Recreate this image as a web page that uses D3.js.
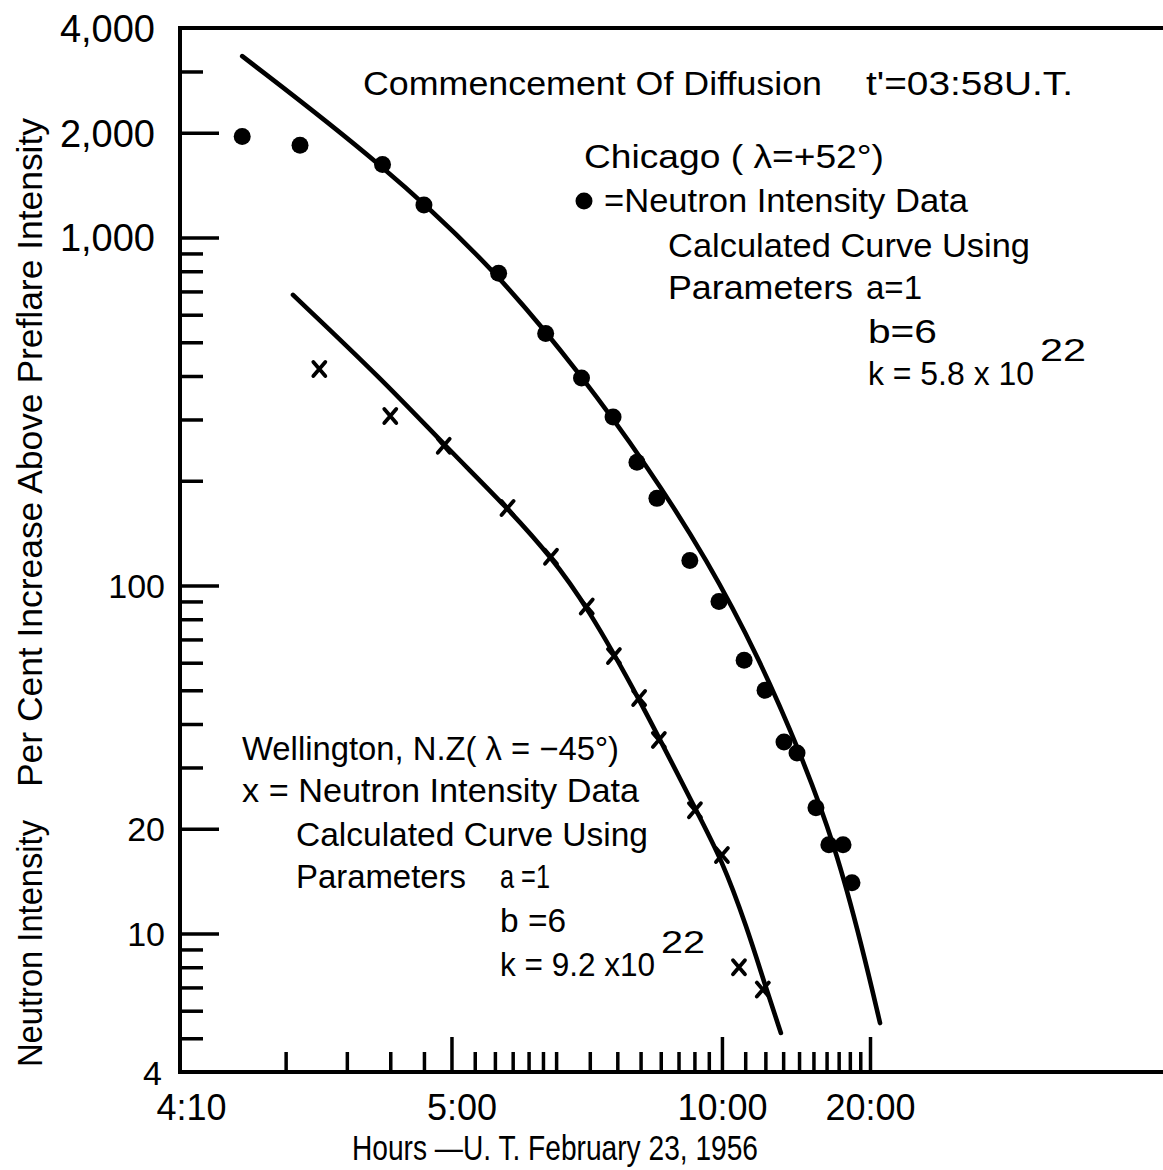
<!DOCTYPE html>
<html>
<head>
<meta charset="utf-8">
<script src="https://cdn.jsdelivr.net/npm/d3@7"></script>
<style>
  body { margin: 0; background: #fff; }
  svg { display: block; }
  text { font-family: "Liberation Sans", Arial, sans-serif; fill: #000; }
</style>
</head>
<body>
<svg id="chart" width="1163" height="1170"></svg>
<script>
// Times are U.T. on February 23, 1956; the horizontal axis is log(minutes after 04:00).
const chicagoTimes  = ["4:15","4:22","4:38","4:50","5:22","5:52","6:22","6:55","7:25","7:54",
                       "8:51","9:53","10:57","11:59","13:03","13:52","15:11","16:11","17:23","18:12"];
const chicagoValues = [1950,1840,1620,1240,790,530,395,305,226,178,
                       118,90,61,50,35.5,33,23,18,18,14];

const wellingtonTimes  = ["4:25","4:40","4:57","5:27","5:56","6:27","6:56","7:28","7:57","9:01","10:00","10:43","11:52"];
const wellingtonValues = [419,307,252,167,121,87,62.7,47.5,36,22.6,16.8,8.0,6.9];

// Calculated diffusion curves (a=1, b=6)
const chicagoCurveTimes  = ["4:15","4:38","5:22","6:23","7:36","9:28","11:43","14:04","16:41","19:16","21:06"];
const chicagoCurveValues = [3320,1626,791,397,226,118,61.1,33.2,18,8.97,5.53];

const wellingtonCurveTimes  = ["4:21","4:38","4:58","5:27","5:56","6:27","7:28","9:01","10:00","11:05","11:59","12:52"];
const wellingtonCurveValues = [684,390,250,167,121,87.3,47.5,22.9,16.3,10.4,7.11,5.18];

// Axis ticks
const xMajorTicks = ["4:10","5:00","10:00","20:00"];
const xMinorTicks = ["4:20","4:30","4:40","4:50","5:10","5:20","5:30","5:40","5:50","6:00",
                     "6:30","7:00","7:30","8:00","8:30","9:00","9:30",
                     "11:00","12:00","13:00","14:00","15:00","16:00","17:00","18:00","19:00"];
const yMajorTicks = [4000,2000,1000,100,20,10,4];
const yMinorTicks = [3000,900,800,700,600,500,400,300,200,90,80,70,60,50,40,30,9,8,7,6,5];

const toMin = s => { const [h, m] = s.split(":").map(Number); return (h - 4) * 60 + m; };
const fmtTime = m => `${Math.floor(m / 60) + 4}:${String(m % 60).padStart(2, "0")}`;

const W = 1163;
const plotLeft = 180, plotTop = 28, plotBottom = 1072;

const svg = d3.select("#chart");

const x = d3.scaleLog().domain([10, 960]).range([181, 870]);
const y = d3.scaleLog().domain([4, 4000]).range([plotBottom, plotTop]);

// Frame lines: left axis, top edge, time axis running to the page edge
svg.append("path")
  .attr("d", `M${W},${plotTop}H${plotLeft}V${plotBottom}H${W}`)
  .attr("fill", "none").attr("stroke", "#000").attr("stroke-width", 4);

// Time axis
const xMajorMin = xMajorTicks.map(toMin);
const xTicks = xMajorMin.concat(xMinorTicks.map(toMin));
const gx = svg.append("g")
  .attr("transform", `translate(0,${plotBottom})`)
  .call(d3.axisBottom(x).tickValues(xTicks)
    .tickSizeInner(-20).tickSizeOuter(0).tickPadding(22)
    .tickFormat(m => xMajorMin.includes(m) ? fmtTime(m) : ""));
gx.select(".domain").remove();
gx.attr("font-family", null).attr("font-size", 36);
gx.selectAll(".tick line")
  .attr("stroke", "#000").attr("stroke-width", 3.5)
  .attr("y2", m => m === 10 ? 0 : (xMajorMin.includes(m) ? -35 : -20));
// centre each time label on its colon
gx.selectAll(".tick text").each(function () {
  const t = this.textContent;
  if (!t) return;
  const i = t.indexOf(":");
  const pre = this.getSubStringLength(0, i);
  const col = this.getSubStringLength(i, 1);
  d3.select(this).attr("text-anchor", "start").attr("x", -(pre + col / 2));
});

// Intensity axis
const yTicks = yMajorTicks.concat(yMinorTicks);
const gy = svg.append("g")
  .attr("transform", `translate(${plotLeft},0)`)
  .call(d3.axisLeft(y).tickValues(yTicks)
    .tickSizeInner(-23).tickSizeOuter(0).tickPadding(15)
    .tickFormat(v => yMajorTicks.includes(v) ? d3.format(",")(v) : ""));
gy.select(".domain").remove();
gy.attr("font-family", null);
gy.selectAll(".tick line")
  .attr("stroke", "#000").attr("stroke-width", 3.5)
  .attr("x2", v => (v === 4 || v === 4000) ? 0 : (yMajorTicks.includes(v) ? 39 : 23));
gy.selectAll(".tick text")
  .attr("font-size", v => v >= 1000 ? 38 : 34)
  .attr("x", v => v >= 1000 ? -25 : (v === 4 ? -18 : -15))
  .attr("dy", v => v === 4 ? "0.38em" : "0.35em");

// Curves
const line = d3.line().x(d => x(d.m)).y(d => y(d.v)).curve(d3.curveBasis);
const chicagoCurve = chicagoCurveTimes.map((t, i) => ({ m: toMin(t), v: chicagoCurveValues[i] }));
const wellingtonCurve = wellingtonCurveTimes.map((t, i) => ({ m: toMin(t), v: wellingtonCurveValues[i] }));
[chicagoCurve, wellingtonCurve].forEach(c => {
  svg.append("path").attr("d", line(c))
    .attr("fill", "none").attr("stroke", "#000")
    .attr("stroke-width", 4.6).attr("stroke-linecap", "round");
});

// Chicago observations: filled dots
svg.append("g").selectAll("circle")
  .data(chicagoTimes.map((t, i) => ({ m: toMin(t), v: chicagoValues[i] })))
  .join("circle")
  .attr("cx", d => x(d.m)).attr("cy", d => y(d.v)).attr("r", 8.5).attr("fill", "#000");

// Wellington observations: x marks
svg.append("g").selectAll("path")
  .data(wellingtonTimes.map((t, i) => ({ m: toMin(t), v: wellingtonValues[i] })))
  .join("path")
  .attr("transform", d => `translate(${x(d.m)},${y(d.v)})`)
  .attr("d", "M-6,-7L6,7M6,-7L-6,7")
  .attr("fill", "none").attr("stroke", "#000").attr("stroke-width", 3.8).attr("stroke-linecap", "round");

// Text helper: string spanning x0..x1 on a baseline
function label(str, x0, x1, baseline, size) {
  return svg.append("text")
    .attr("x", x0).attr("y", baseline).attr("font-size", size)
    .attr("textLength", x1 - x0).attr("lengthAdjust", "spacingAndGlyphs")
    .text(str);
}

// Heading
label("Commencement Of Diffusion", 363, 822, 95, 34);
label("t'=03:58U.T.", 866, 1073, 95, 34);

// Chicago annotation
label("Chicago ( λ=+52°)", 584, 884, 168, 33);
svg.append("circle").attr("cx", 584).attr("cy", 201).attr("r", 8.5).attr("fill", "#000");
label("=Neutron  Intensity Data", 604, 968, 212, 33);
label("Calculated Curve Using", 668, 1030, 257, 33);
label("Parameters", 668, 853, 299, 33);
label("a=1", 866, 922, 299, 33);
label("b=6", 868, 937, 343, 33);
label("k = 5.8 x 10", 868, 1034, 385, 33);
label("22", 1040, 1086, 361, 31);

// Wellington annotation
label("Wellington, N.Z( λ = −45°)", 242, 619, 760, 33);
label("x = Neutron  Intensity Data", 242, 639, 802, 33);
label("Calculated Curve Using", 296, 648, 846, 33);
label("Parameters", 296, 466, 888, 33);
label("a =1", 500, 550, 888, 33);
label("b =6", 500, 566, 932, 33);
label("k = 9.2 x10", 500, 655, 976, 33);
label("22", 661, 705, 953, 31);

// Axis titles
label("Hours —U. T. February 23, 1956", 352, 758, 1160, 35);

function vlabel(str, yBottom, yTop, baselineX, size) {
  svg.append("text")
    .attr("transform", `translate(${baselineX},${yBottom}) rotate(-90)`)
    .attr("font-size", size)
    .attr("textLength", yBottom - yTop).attr("lengthAdjust", "spacingAndGlyphs")
    .text(str);
}
vlabel("Neutron Intensity", 1067, 820, 42, 35);
vlabel("Per Cent  Increase  Above  Preflare  Intensity", 787, 118, 42, 35);
</script>
</body>
</html>
